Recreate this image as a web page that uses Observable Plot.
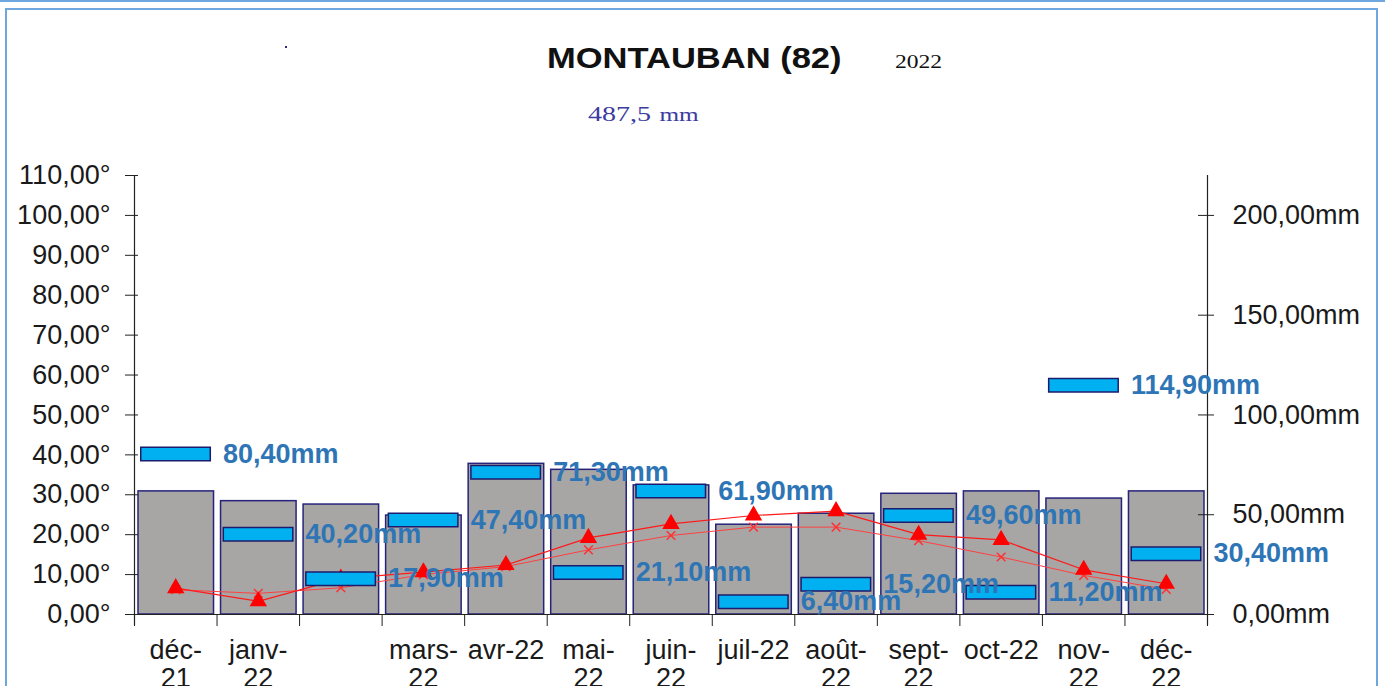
<!DOCTYPE html>
<html>
<head>
<meta charset="utf-8">
<script src="https://cdn.jsdelivr.net/npm/d3@7"></script>
<script src="https://cdn.jsdelivr.net/npm/@observablehq/plot@0.6"></script>
<style>
  html, body { margin: 0; padding: 0; background: #fff; }
  #page { position: relative; width: 1385px; height: 686px; overflow: hidden; background: #fff; }
  #topline { position: absolute; left: 0; top: 0; width: 1385px; height: 2px; background: #6fa6de; }
  #frame { position: absolute; left: 5px; top: 8px; width: 1369px; height: 700px; border: 2px solid #6fa6de; }
  .t { position: absolute; white-space: nowrap; line-height: 1; transform-origin: 0 0; }
  #title { left: 547px; top: 41px; font: bold 30px "Liberation Sans", Arial, sans-serif; color: #111; transform: scaleX(1.15); }
  #year { left: 895px; top: 51px; font: 19px "Liberation Serif", "Times New Roman", serif; color: #111; transform: scaleX(1.24); }
  #total { left: 588px; top: 103px; font: 20px "Liberation Serif", "Times New Roman", serif; color: #3b3ba0; transform: scaleX(1.4); }
  #total .u { font-size: 18px; margin-left: 6px; }
  #dot { position: absolute; left: 285px; top: 46px; width: 2px; height: 2px; background: #2a2a80; }
  #chart { position: absolute; left: 0; top: 160px; }
</style>
</head>
<body>
<div id="page">
  <div id="topline"></div>
  <div id="frame"></div>
  <div id="dot"></div>
  <div class="t" id="title">MONTAUBAN (82)</div>
  <div class="t" id="year">2022</div>
  <div class="t" id="total">487,5<span class="u">mm</span></div>
  <div id="chart"></div>
</div>
<script>
// Categories (months)
const months = ["déc-21", "janv-22", "févr-22", "mars-22", "avr-22", "mai-22", "juin-22", "juil-22", "août-22", "sept-22", "oct-22", "nov-22", "déc-22"];
// Axis labels as printed (wrapped, févr. not shown)
const monthLabels = ["déc-\n21", "janv-\n22", "", "mars-\n22", "avr-22", "mai-\n22", "juin-\n22", "juil-22", "août-\n22", "sept-\n22", "oct-22", "nov-\n22", "déc-\n22"];
// Monthly rainfall (mm)
const rainfall = [80.4, 40.2, 17.9, 47.4, 71.3, 21.1, 61.9, 6.4, 15.2, 49.6, 11.2, 114.9, 30.4];
// Normal monthly rainfall (mm) – grey bars
const normalRainfall = [61.7, 56.8, 55.1, 49.6, 75.5, 72.5, 64.7, 45.0, 50.5, 60.5, 61.7, 58.1, 61.7];
// Monthly mean temperature (°) – triangles
const tempMean = [6.6, 3.3, 9.0, 10.6, 12.4, 19.2, 22.7, 24.8, 25.9, 20.0, 18.7, 11.2, 7.7];
// Normal mean temperature (°) – crosses
const tempNormal = [6.2, 5.3, 6.7, 10.0, 12.0, 16.2, 19.8, 21.9, 21.9, 18.5, 14.4, 9.8, 6.3];
// Tick values
const leftTicks = [0, 10, 20, 30, 40, 50, 60, 70, 80, 90, 100, 110];
const rightTicksMm = [0, 50, 100, 150, 200];

const rows = months.map((m, i) => ({
  i, month: m, label: monthLabels[i],
  rain: rainfall[i], normal: normalRainfall[i],
  tmean: tempMean[i], tnorm: tempNormal[i]
}));

const fmt = v => v.toFixed(2).replace(".", ",");
const mid = d => d.i + 0.5;
const nxt = d => d.i + 1;
const FONT = "'Liberation Sans', Arial, sans-serif";

const chart = Plot.plot({
  width: 1385,
  height: 526,
  marginTop: 15,
  marginBottom: 72,
  marginLeft: 134,
  marginRight: 178,
  x: {domain: [0, 13]},
  y: {domain: [0, 110]},
  style: {fontFamily: FONT, fontSize: "27px", color: "#1a1a1a", background: "transparent", overflow: "visible"},
  marks: [
    Plot.rectY(rows, {x1: "i", x2: nxt, y: d => d.normal / 2, insetLeft: 4, insetRight: 3,
      fill: "#a8a5a5", stroke: "#26247a", strokeWidth: 1.5}),
    Plot.line(rows, {x: mid, y: "tnorm", stroke: "#ff4040", strokeWidth: 1}),
    Plot.line(rows, {x: mid, y: "tmean", stroke: "#ff1a1a", strokeWidth: 1.2}),
    Plot.dot(rows, {x: mid, y: "tnorm", symbol: "times", r: 4, stroke: "#ff3030", strokeWidth: 1.5}),
    Plot.dot(rows, {x: mid, y: "tmean", symbol: "triangle", r: 5.5, fill: "#ff0000", stroke: "#ff0000"}),
    Plot.ruleY(rows, {x1: "i", x2: nxt, y: d => d.rain / 2, insetLeft: 6, insetRight: 5.5,
      stroke: "#1c1c6e", strokeWidth: 15}),
    Plot.ruleY(rows, {x1: "i", x2: nxt, y: d => d.rain / 2, insetLeft: 7.5, insetRight: 7,
      stroke: "#00b0f0", strokeWidth: 12}),
    Plot.ruleY([0], {stroke: "#222", strokeWidth: 1.2, insetLeft: -9}),
    Plot.ruleX([0, 13], {y1: 110, y2: 0, stroke: "#222", strokeWidth: 1.2, insetBottom: -11}),
    Plot.axisY({anchor: "left", ticks: leftTicks, tickFormat: v => fmt(v) + "°",
      tickSize: 13, dx: 4, tickPadding: 15, label: null, fontSize: 27, stroke: "#222"}),
    Plot.axisY({anchor: "right", ticks: rightTicksMm.map(v => v / 2), tickFormat: v => fmt(v * 2) + "mm",
      tickSize: 16, dx: -10, tickPadding: 19, label: null, fontSize: 27, stroke: "#222"}),
    Plot.axisX({ticks: d3.range(0, 14), tickFormat: () => "", tickSize: 12, label: null, stroke: "#222"}),
    Plot.text(rows, {x: mid, y: 0, text: "label", lineAnchor: "top", dy: 25, lineHeight: 1.02,
      fontSize: 27, fill: "#1a1a1a"}),
    Plot.text(rows, {x: nxt, y: d => d.rain / 2, text: d => fmt(d.rain) + "mm", textAnchor: "start",
      dx: 6, fontSize: 27, fontWeight: "bold", fill: "#2e75b6"})
  ]
});
document.getElementById("chart").appendChild(chart);
</script>
</body>
</html>
